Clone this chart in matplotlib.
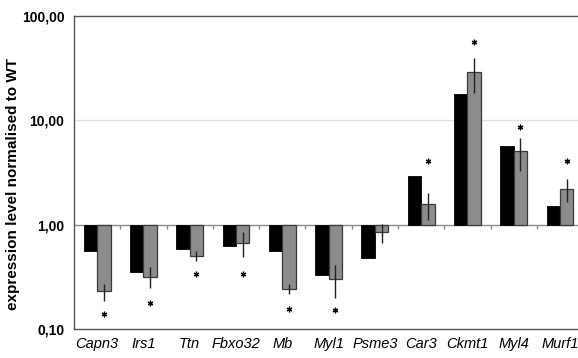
import matplotlib
matplotlib.use("Agg")
import matplotlib.pyplot as plt
import numpy as np

plt.rcParams['font.family'] = ['Liberation Sans', 'DejaVu Sans']

#### data ##################################################
genes = ['Capn3', 'Irs1', 'Ttn', 'Fbxo32', 'Mb', 'Myl1', 'Psme3', 'Car3', 'Ckmt1', 'Myl4', 'Murf1']
black_vals = [0.56, 0.355, 0.585, 0.62, 0.555, 0.327, 0.483, 2.92, 18.0, 5.67, 1.51]
grey_vals = [0.23, 0.317, 0.497, 0.662, 0.242, 0.303, 0.844, 1.57, 29.3, 5.08, 2.21]
err_low = [0.187, 0.245, 0.445, 0.49, 0.217, 0.20, 0.667, 1.10, 18.4, 3.3, 1.66]
err_high = [0.27, 0.39, 0.555, 0.844, 0.27, 0.407, 1.01, 2.02, 39.2, 6.8, 2.71]
# asterisk positions (None = not significant)
star_y = [0.14, 0.177, 0.34, 0.34, 0.157, 0.153, None, 4.1, 55.9, 8.7, 4.1]
yticks = [0.1, 1, 10, 100]
ytick_labels = ['0,10', '1,00', '10,00', '100,00']

#### plot ##################################################
fig = plt.figure(figsize=(5.78, 3.58), dpi=100)
ax = fig.add_axes([74 / 578, 29 / 358, 1 - 74 / 578, (329 - 16) / 358])

x = np.arange(len(genes))
w = 0.29
ax.set_yscale('log')
ax.bar(x - w / 2, np.array(black_vals) - 1, bottom=1, width=w, color='black', edgecolor='black', lw=0.6, zorder=3)
ax.bar(x + w / 2, np.array(grey_vals) - 1, bottom=1, width=w, color='#8c8c8c', edgecolor='#3a3a3a', lw=0.9, zorder=3)
yerr = [np.array(grey_vals) - np.array(err_low), np.array(err_high) - np.array(grey_vals)]
ax.errorbar(x + w / 2, grey_vals, yerr=yerr, fmt='none', ecolor='#222222', elinewidth=1, capsize=0, zorder=4)

sx = [xi + w / 2 for xi, s in zip(x, star_y) if s is not None]
sy = [s for s in star_y if s is not None]
ax.plot(sx, sy, ls='none', marker=(6, 2, 0), ms=4, mew=0.9, color='black', zorder=5)

# Excel style category axis crossing at 1
ax.axhline(10, color='#e2e2e2', lw=1, zorder=1)
ax.axhline(1, color='#8a8a8a', lw=1, zorder=2)
ax.vlines(x[:-1] + 0.5, 0.915, 1, color='#8a8a8a', lw=1, zorder=2)

ax.set_ylim(0.1, 100)
ax.set_xlim(-0.5, 10.39)
ax.set_yticks(yticks)
ax.set_yticklabels(ytick_labels, fontsize=10, fontweight='bold')
ax.yaxis.set_minor_locator(matplotlib.ticker.NullLocator())
ax.set_xticks(x)
ax.set_xticklabels(genes, fontsize=10.5, style='italic')
ax.tick_params(axis='y', length=0, pad=7)
ax.tick_params(axis='x', length=0, pad=6)
ax.set_ylabel('expression level normalised to WT', fontsize=11, fontweight='bold')
ax.yaxis.set_label_coords(-0.107, 0.462)

for s in ['left', 'bottom', 'top']:
    ax.spines[s].set_color('#555555')
    ax.spines[s].set_linewidth(1)
ax.spines['right'].set_visible(False)

fig.savefig('out.png', dpi=100)
